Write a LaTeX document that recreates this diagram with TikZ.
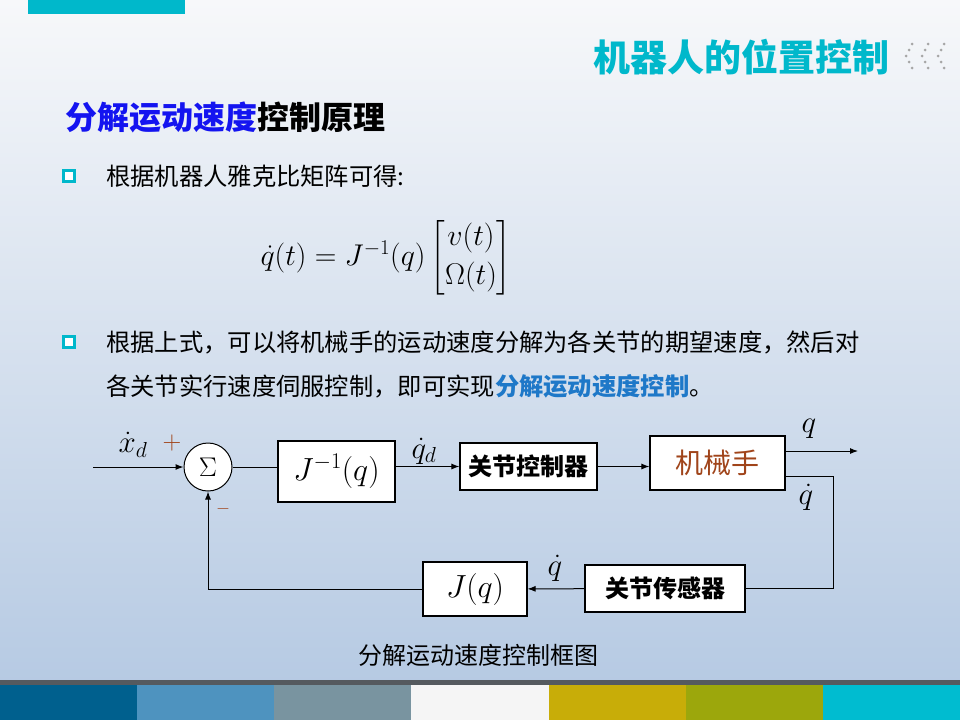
\RequirePackage{fix-cm}
\documentclass[tikz,border=0pt]{standalone}
\usepackage{amsmath}
\usepackage{fontspec}
\setmainfont{Noto Sans CJK SC}
\usetikzlibrary{arrows.meta,positioning}
\definecolor{tealbar}{HTML}{00B8CB}
\definecolor{titleblue}{HTML}{1414F0}
\definecolor{keyblue}{HTML}{1E78C8}
\definecolor{rustred}{HTML}{A0441A}
\definecolor{bgtop}{HTML}{F7F8FA}
\definecolor{bgmid}{HTML}{CFDCEC}
\definecolor{bgbot}{HTML}{B6CAE3}
\definecolor{stripgray}{HTML}{555A5F}
\definecolor{stripa}{HTML}{00608E}
\definecolor{stripb}{HTML}{4E93BF}
\definecolor{stripc}{HTML}{7994A0}
\definecolor{stripd}{HTML}{F5F5F5}
\definecolor{stripe}{HTML}{C8AD08}
\definecolor{stripf}{HTML}{9CA70C}
\definecolor{stripg}{HTML}{00BCD0}
\tikzset{
    blockbox/.style={rectangle, draw, fill=white, line width=1.1pt, inner sep=0pt, align=center},
    sumnode/.style={circle, draw, fill=white, line width=1pt, minimum size=48, inner sep=0pt},
    sig/.style={-{Latex[length=8pt,width=6pt]}, line width=1pt},
    bodytext/.style={anchor=west, inner sep=0pt, font=\fontsize{24.3}{27}\selectfont},
    bulletbox/.style={rectangle, draw=tealbar, line width=3pt, fill=white, minimum size=11, inner sep=0pt},
    mathlabel/.style={inner sep=0pt, font=\fontsize{31}{33}\selectfont}
}
\begin{document}
\begin{tikzpicture}[x=1pt, y=-1pt]
    \useasboundingbox (0,0) rectangle (960,720);
    % Background
    \shade[top color=bgtop, middle color=bgmid, bottom color=bgbot] (0,0) rectangle (960,684);
    \fill[tealbar] (28,0) rectangle (185,14);
    % Bottom strip
    \fill[stripgray] (0,680) rectangle (960,685);
    \foreach \col [count=\i from 0] in {stripa,stripb,stripc,stripd,stripe,stripf,stripg}
        \fill[\col] (\i*137.14,685) rectangle ({(\i+1)*137.14},720);

    % Headings
    \node[anchor=east, inner sep=0pt, text=tealbar, font=\fontsize{37}{40}\selectfont\bfseries] (title) at (890,57) {机器人的位置控制};
    \foreach \k in {0,1,2}
        \foreach \dx/\dy in {12/44,9/50,6/56,9/62,12/68}
            \fill[gray!70] (900+\k*16+\dx,\dy) circle (1.5);
    \node[anchor=west, inner sep=0pt, font=\fontsize{32}{36}\selectfont\bfseries] (subtitle) at (65,117) {\textcolor{titleblue}{分解运动速度}控制原理};

    % Bullet points
    \node[bulletbox] (b1) at (69,176) {};
    \node[bodytext] (t1) at (106,176) {根据机器人雅克比矩阵可得:};
    \node[inner sep=0pt, font=\fontsize{30}{34}\selectfont] (eq) at (386,258)
        {$\dot q(t)=J^{-1}(q)\begin{bmatrix}v(t)\\[5pt] \Omega(t)\end{bmatrix}$};
    \node[bulletbox] (b2) at (69,342) {};
    \node[bodytext] (t2) at (106,342) {根据上式，可以将机械手的运动速度分解为各关节的期望速度，然后对};
    \node[bodytext] (t3) at (106,386) {各关节实行速度伺服控制，即可实现\textcolor{keyblue}{\bfseries 分解运动速度控制}。};

    % Block diagram
    \coordinate (in) at (93,467);
    \coordinate (qout) at (858,451);
    \coordinate (fbr) at (833,476);
    \node[sumnode] (sum) at (208,467) {\fontsize{27}{29}\selectfont$\Sigma$};
    \node[blockbox, minimum width=117, minimum height=61, font=\fontsize{32}{34}\selectfont] (jinv) at (336.5,471.5) {$J^{-1}(q)$};
    \node[blockbox, minimum width=137, minimum height=47, font=\fontsize{24}{26}\selectfont\bfseries] (ctrl) at (528.5,466.5) {关节控制器};
    \node[blockbox, minimum width=135, minimum height=54, text=rustred, font=\fontsize{28}{30}\selectfont] (robot) at (717.5,463) {机械手};
    \node[blockbox, minimum width=160, minimum height=47, font=\fontsize{24}{26}\selectfont\bfseries] (sensor) at (665,588.5) {关节传感器};
    \node[blockbox, minimum width=104, minimum height=54, font=\fontsize{32}{34}\selectfont] (jac) at (475,589) {$J(q)$};

    % Signal labels
    \node[mathlabel] (xd) at (133,445) {$\dot x_d$};
    \node[text=rustred, inner sep=0pt, font=\fontsize{26}{28}\selectfont] (plus) at (172,443) {$+$};
    \node[text=rustred, inner sep=0pt, font=\fontsize{18}{20}\selectfont] (minus) at (223,509) {$-$};
    \node[mathlabel] (qd) at (424,451) {$\dot q_d$};
    \node[mathlabel] (qlab) at (809,429) {$q$};
    \node[mathlabel] (qdot1) at (806,497) {$\dot q$};
    \node[mathlabel] (qdot2) at (555,568) {$\dot q$};

    % Connections
    \draw[sig] (in) -- (sum);
    \draw[line width=1pt] (sum) -- (sum -| jinv.west);
    \draw[sig] (jinv.east |- ctrl) -- (ctrl);
    \draw[sig] (ctrl) -- (robot.west |- ctrl);
    \draw[sig] (robot.east |- qout) -- (qout);
    \draw[line width=1pt] (robot.east |- fbr) -- (fbr) |- (sensor);
    \draw[sig] (sensor) -- (jac);
    \draw[sig] (jac) -| (sum);

    % Caption
    \node[font=\fontsize{24}{26}\selectfont] (caption) at (478,655) {分解运动速度控制框图};
\end{tikzpicture}
\end{document}
